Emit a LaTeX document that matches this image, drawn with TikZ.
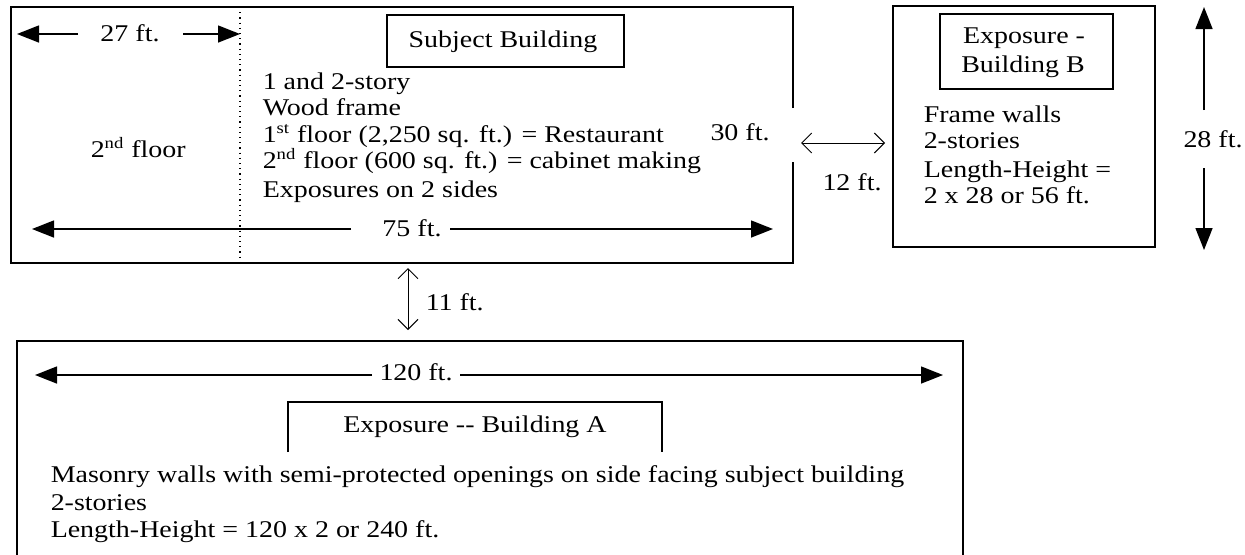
\documentclass[tikz,border=0pt]{standalone}
\usepackage{fontspec}
\setmainfont{Liberation Serif}[FakeStretch=1.165]
\usetikzlibrary{arrows.meta}
\begin{document}
\begin{tikzpicture}[x=0.5pt,y=-0.5pt,line width=0.75pt,
  txt/.style={font=\fontsize{12}{14}\selectfont,inner sep=0pt},
  lt/.style={txt,anchor=base west},
  ct/.style={txt,anchor=base},
  fa/.style={-{Triangle[length=11pt,width=8.5pt]}},
  oa/.style={{Straight Barb[length=5pt,width=10pt]}-{Straight Barb[length=5pt,width=10pt]},line width=0.5pt}]
\useasboundingbox (0,0) rectangle (1245,554);
% Subject building
\draw (793,108) -- (793,7) -- (11,7) -- (11,263) -- (793,263) -- (793,162);
\draw[dotted,line width=0.6pt] (240,7) -- (240,263);
\draw (387,15) rectangle (624,67);
\node[ct] (sbt) at (503,47) {Subject Building};
\node[lt] (s1) at (262,89) {1 and 2-story};
\node[lt] (s2) at (262,115) {Wood frame};
\node[lt] (s3) at (262,142) {1\textsuperscript{st} floor (2,250 sq. ft.) = Restaurant};
\node[lt] (s4) at (262,168) {2\textsuperscript{nd} floor (600 sq. ft.) = cabinet making};
\node[lt] (s5) at (262,197) {Exposures on 2 sides};
\node[lt] (s2f) at (90,157) {2\textsuperscript{nd} floor};
% 27 ft
\node[ct] (d27) at (130,41) {27 ft.};
\coordinate (d27a) at (78,34); \coordinate (d27l) at (17,34);
\coordinate (d27b) at (183,34); \coordinate (d27r) at (240,34);
\draw[fa] (d27a) -- (d27l);
\draw[fa] (d27b) -- (d27r);
% 75 ft
\node[ct] (d75) at (412,236) {75 ft.};
\coordinate (d75a) at (351,229); \coordinate (d75l) at (32,229);
\coordinate (d75b) at (450,229); \coordinate (d75r) at (773,229);
\draw[fa] (d75a) -- (d75l);
\draw[fa] (d75b) -- (d75r);
% 30 ft
\node[ct] (d30) at (740,140) {30 ft.};
% 12 ft
\coordinate (d12l) at (801,143); \coordinate (d12r) at (885,143);
\draw[oa] (d12l) -- (d12r);
\node[ct] (d12) at (852,190) {12 ft.};
% Building B
\draw (893,6) rectangle (1155,247);
\draw (940,14) rectangle (1113,89);
\node[ct] (bb1) at (1024,43) {Exposure -};
\node[ct] (bb2) at (1023,72) {Building B};
\node[lt] (b1) at (923,122) {Frame walls};
\node[lt] (b2) at (923,148) {2-stories};
\node[lt] (b3) at (923,177) {Length-Height =};
\node[lt] (b4) at (923,203) {2 x 28 or 56 ft.};
% 28 ft
\node[ct] (d28) at (1213,147) {28 ft.};
\coordinate (d28a) at (1204,110); \coordinate (d28t) at (1204,7);
\coordinate (d28b) at (1204,168); \coordinate (d28d) at (1204,250);
\draw[fa] (d28a) -- (d28t);
\draw[fa] (d28b) -- (d28d);
% 11 ft
\coordinate (d11t) at (408,268); \coordinate (d11b) at (408,330);
\draw[oa] (d11t) -- (d11b);
\node[lt] (d11) at (425,310) {11 ft.};
% Building A
\draw (17,560) -- (17,341) -- (963,341) -- (963,560);
\node[ct] (d120) at (416,380) {120 ft.};
\coordinate (d120a) at (372,375); \coordinate (d120l) at (35,375);
\coordinate (d120b) at (460,375); \coordinate (d120r) at (943,375);
\draw[fa] (d120a) -- (d120l);
\draw[fa] (d120b) -- (d120r);
\draw (288,452) -- (288,402) -- (662,402) -- (662,452);
\node[ct] (bat) at (475,432) {Exposure -{}- Building A};
\node[lt] (a1) at (50,482) {Masonry walls with semi-protected openings on side facing subject building};
\node[lt] (a2) at (50,510) {2-stories};
\node[lt] (a3) at (50,537) {Length-Height = 120 x 2 or 240 ft.};
\end{tikzpicture}
\end{document}
